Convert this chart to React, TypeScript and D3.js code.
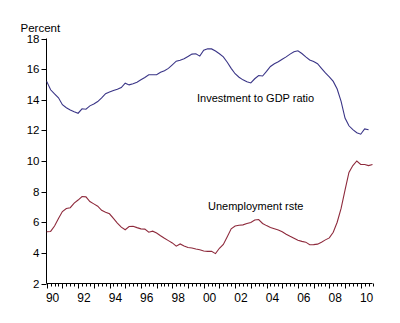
import React from "react";
import * as d3 from "d3";

const START_YEAR = 1990;
const investment = [
  15.2, 14.65, 14.38, 14.13, 13.68, 13.48, 13.33, 13.22, 13.12, 13.41, 13.38, 13.6,
  13.72, 13.88, 14.12, 14.4, 14.5, 14.6, 14.68, 14.8, 15.08, 14.97, 15.05, 15.15,
  15.3, 15.45, 15.63, 15.63, 15.63, 15.8, 15.9, 16.05, 16.28, 16.52, 16.58, 16.68,
  16.83, 16.98, 17.0, 16.85, 17.24, 17.33, 17.32, 17.18, 17.0, 16.8, 16.45, 16.05,
  15.7, 15.47, 15.3, 15.18, 15.1, 15.37, 15.58, 15.55, 15.85, 16.17, 16.35, 16.48,
  16.65, 16.8, 16.98, 17.13, 17.2, 17.02, 16.8, 16.6, 16.5, 16.35, 16.05, 15.75,
  15.5, 15.2, 14.7, 13.9, 12.8, 12.3, 12.05, 11.85, 11.75, 12.1, 12.04,
];
const unemployment = [
  5.38, 5.4, 5.75, 6.25, 6.7, 6.9, 6.95, 7.25, 7.45, 7.68, 7.66, 7.35,
  7.2, 7.05, 6.78, 6.65, 6.55, 6.25, 5.95, 5.68, 5.51, 5.72, 5.74, 5.65,
  5.57, 5.55, 5.35, 5.42, 5.3, 5.12, 4.95, 4.8, 4.65, 4.44, 4.58, 4.45,
  4.35, 4.32, 4.25, 4.2, 4.12, 4.1, 4.1, 3.95, 4.3, 4.55, 5.05, 5.57,
  5.75, 5.8, 5.83, 5.92, 5.98, 6.15, 6.18, 5.92, 5.78, 5.66, 5.58, 5.5,
  5.38, 5.22, 5.08, 4.95, 4.82, 4.75, 4.7, 4.53, 4.54, 4.57, 4.7, 4.85,
  4.98, 5.35, 6.0, 6.9, 8.1, 9.25, 9.7, 10.0, 9.77, 9.77, 9.7, 9.77,
];
const yTicks = [2, 4, 6, 8, 10, 12, 14, 16, 18];
const xLabelYears = [1990, 1992, 1994, 1996, 1998, 2000, 2002, 2004, 2006, 2008, 2010];
const seriesLabels = ["Investment to GDP ratio", "Unemployment rste"];
const yTitle = "Percent";

export default function App() {
  const W = 400, H = 323;
  const x = d3.scaleLinear().domain([1990, 2010.75]).range([46.7, 372.5]);
  const y = d3.scaleLinear().domain([2, 18]).range([283.5, 38.5]);
  const font = "'Liberation Sans', Arial, sans-serif";
  const line = d3
    .line<number>()
    .x((_, i) => x(START_YEAR + i / 4))
    .y((d) => y(d));
  const quarters = d3.range(0, 20.75 * 4 + 1).map((q) => START_YEAR + q / 4);
  const axisX = 46.5;
  const axisY = 283.5;
  return (
    <svg
      width={W}
      height={H}
      style={{ position: "absolute", left: 0, top: 0, background: "#fff" }}
      fontFamily={font}
    >
      <rect x={0} y={0} width={W} height={H} fill="#fff" />
      <text x={20.5} y={32} fontSize={11.5} fill="#000">{yTitle}</text>
      <line x1={axisX} x2={axisX} y1={y(18)} y2={axisY} stroke="#000" strokeWidth={1} />
      <line x1={axisX} x2={x(2010.75)} y1={axisY} y2={axisY} stroke="#000" strokeWidth={1} />
      {yTicks.map((t) => (
        <g key={t}>
          <line x1={axisX - 5} x2={axisX} y1={Math.round(y(t)) + 0.5} y2={Math.round(y(t)) + 0.5} stroke="#000" />
          <text x={39.5} y={y(t) + 4} fontSize={11.5} textAnchor="end" fill="#000">{t}</text>
        </g>
      ))}
      {quarters.map((q, i) => {
        const major = i % 4 === 0;
        const xx = Math.round(x(q)) + 0.5;
        return (
          <line key={i} x1={xx} x2={xx} y1={axisY} y2={axisY + (major ? 5 : 3)} stroke="#000" />
        );
      })}
      {xLabelYears.map((yr) => (
        <text key={yr} x={x(yr + 0.375)} y={302} fontSize={12} textAnchor="middle" fill="#000">
          {String(yr % 100).padStart(2, "0")}
        </text>
      ))}
      <path d={line(investment) || ""} fill="none" stroke="#3a3587" strokeWidth={1.1} />
      <path d={line(unemployment) || ""} fill="none" stroke="#8e2a3c" strokeWidth={1.1} />
      <text x={197} y={102} fontSize={11} fill="#000">{seriesLabels[0]}</text>
      <text x={208} y={210} fontSize={11} fill="#000">{seriesLabels[1]}</text>
    </svg>
  );
}
